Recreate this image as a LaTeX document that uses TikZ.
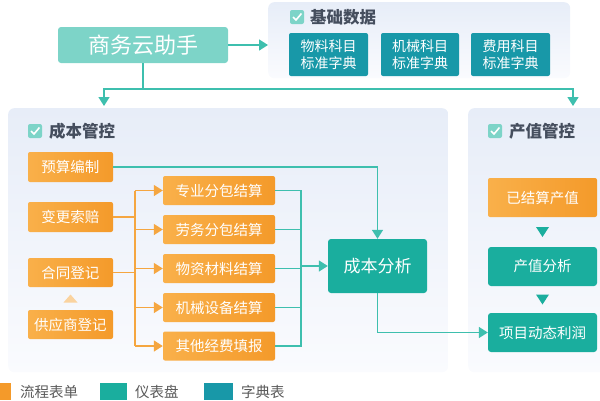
\documentclass[tikz,border=0pt]{standalone}
\usepackage{fontspec}
\setmainfont{Noto Sans CJK SC}
\usetikzlibrary{arrows.meta,calc}
\definecolor{flowA}{HTML}{F9B04A}
\definecolor{flowB}{HTML}{F49A2A}
\definecolor{board}{HTML}{1AAE9E}
\definecolor{dict}{HTML}{1898A8}
\definecolor{helper}{HTML}{7DD4C8}
\definecolor{tline}{HTML}{3EBFAE}
\definecolor{oline}{HTML}{F5A640}
\definecolor{titlegray}{HTML}{454E5E}
\definecolor{paneltop}{HTML}{E7EDF8}
\definecolor{panelbot}{HTML}{FAFBFE}
\def\tickbox(#1){\fill[helper,rounded corners=2pt] ($(#1)+(-7,-7)$) rectangle ($(#1)+(7,7)$);
  \draw[white,line width=1.6pt] ($(#1)+(-4,0)$) -- ($(#1)+(-1,3)$) -- ($(#1)+(4.5,-3.5)$);}
\tikzset{
  flowbox/.style={rounded corners=2pt,left color=flowA,right color=flowB,text=white,inner sep=0pt},
  boardbox/.style={rounded corners=3pt,fill=board,text=white,inner sep=0pt},
  dictbox/.style={rounded corners=2pt,fill=dict,text=white,inner sep=0pt,align=center,
    font=\fontsize{14}{17}\selectfont},
  panelbg/.style={rounded corners=6pt,top color=paneltop,bottom color=panelbot,inner sep=0pt},
  tarrow/.style={tline,line width=1.5pt,-{Triangle[length=9pt,width=11pt]}},
  oarrow/.style={oline,line width=1.5pt,-{Triangle[length=9pt,width=11pt]}},
  title/.style={anchor=west,text=titlegray,font=\fontsize{16.5}{19}\bfseries\selectfont,inner sep=0pt}
}
\begin{document}
\begin{tikzpicture}[x=1pt,y=-1pt,font=\fontsize{14.5}{17}\selectfont]
\useasboundingbox (0,0) rectangle (600,400);
%%%%% panels %%%%%
\node[panelbg,minimum width=302pt,minimum height=76pt,anchor=north west] (basepanel) at (268,2) {};
\node[panelbg,minimum width=440pt,minimum height=264pt,anchor=north west] (costpanel) at (8,108) {};
\node[panelbg,minimum width=150pt,minimum height=264pt,anchor=north west] (valuepanel) at (468,108) {};
\tickbox(297,17)
\node[title] (basetitle) at (310,17) {基础数据};
\tickbox(35,131)
\node[title] (costtitle) at (49,131) {成本管控};
\tickbox(495,131)
\node[title] (valuetitle) at (509,131) {产值管控};

%%%%% top %%%%%
\node[rounded corners=3pt,fill=helper,text=white,minimum width=170pt,minimum height=36pt,
  font=\fontsize{22}{24}\selectfont] (help) at (143,45) {商务云助手};
\node[dictbox,minimum width=79pt,minimum height=43pt] (dict1) at (328.5,54.5) {物料科目\\标准字典};
\node[dictbox,minimum width=78pt,minimum height=43pt] (dict2) at (420,54.5) {机械科目\\标准字典};
\node[dictbox,minimum width=79pt,minimum height=43pt] (dict3) at (510.5,54.5) {费用科目\\标准字典};
\coordinate (split) at ($(help.south)+(0,26)$);
\coordinate (costin) at (104,106);
\coordinate (valuein) at (573,106);
\draw[tarrow] (help.east) -- (help.east -| basepanel.west);
\draw[tarrow] (help.south) -- (split) -| (costin);
\draw[tarrow] (split) -| (valuein);

%%%%% cost control %%%%%
\node[flowbox,minimum width=85pt,minimum height=30pt] (budget) at (70.5,167) {预算编制};
\node[flowbox,minimum width=85pt,minimum height=30pt] (change) at (70.5,217) {变更索赔};
\node[flowbox,minimum width=85pt,minimum height=29pt] (contract) at (70.5,272.5) {合同登记};
\node[flowbox,minimum width=85pt,minimum height=29pt] (supplier) at (70.5,324.5) {供应商登记};
\node[flowbox,minimum width=112pt,minimum height=29pt] (sub1) at (219,190.5) {专业分包结算};
\node[flowbox,minimum width=112pt,minimum height=29pt] (sub2) at (219,229.5) {劳务分包结算};
\node[flowbox,minimum width=112pt,minimum height=29pt] (sub3) at (219,268.5) {物资材料结算};
\node[flowbox,minimum width=112pt,minimum height=29pt] (sub4) at (219,307.5) {机械设备结算};
\node[flowbox,minimum width=112pt,minimum height=29pt] (sub5) at (219,346) {其他经费填报};
\node[boardbox,minimum width=99pt,minimum height=54pt,font=\fontsize{17}{19}\selectfont] (analysis) at (377.5,266) {成本分析};

\fill[oline!50] ($(contract.south)!0.5!(supplier.north)+(-7,4)$) -- ++(14,0) -- ++(-7,-8) -- cycle;

\coordinate (obus) at ($(change.east)+(22,0)$);
\draw[oline,line width=1.5pt] (change.east) -- (obus);
\draw[oline,line width=1.5pt] (contract.east) -- (obus |- contract.east);
\draw[oline,line width=1.5pt] (obus |- sub1.west) -- (obus |- sub5.west);
\foreach \i in {1,...,5}
  \draw[oarrow] (obus |- sub\i.west) -- (sub\i.west);

\coordinate (tbus) at ($(sub1.east)+(26,0)$);
\draw[tline,line width=1.5pt] (sub1.east) -- (tbus) -- (tbus |- sub5.east) -- (sub5.east);
\foreach \i in {2,3,4}
  \draw[tline,line width=1.5pt] (sub\i.east) -- (tbus |- sub\i.east);
\draw[tarrow] (tbus |- analysis.west) -- (analysis.west);
\draw[tarrow] (budget.east) -| (analysis.north);

%%%%% value control %%%%%
\node[flowbox,minimum width=109pt,minimum height=39pt] (settled) at (542.5,197.5) {已结算产值};
\node[boardbox,minimum width=109pt,minimum height=39pt] (valueana) at (542.5,266.5) {产值分析};
\node[boardbox,minimum width=109pt,minimum height=39pt] (profit) at (542.5,332.5) {项目动态利润};
\fill[board] ($(settled.south)!0.5!(valueana.north)+(-6.5,-5)$) -- ++(13,0) -- ++(-6.5,10) -- cycle;
\fill[board] ($(valueana.south)!0.5!(profit.north)+(-6.5,-5)$) -- ++(13,0) -- ++(-6.5,10) -- cycle;
\draw[tarrow] (analysis.south) |- (profit.west);

%%%%% legend %%%%%
\fill[flowB] (-2,383) rectangle (11,400);
\node[anchor=west,text=black!65,inner sep=0pt] (lgflow) at (20,392) {流程表单};
\fill[board] (100,383) rectangle (127,400);
\node[anchor=west,text=black!65,inner sep=0pt] (lgboard) at (135,392) {仪表盘};
\fill[dict] (204,383) rectangle (233,400);
\node[anchor=west,text=black!65,inner sep=0pt] (lgdict) at (241,392) {字典表};
\end{tikzpicture}
\end{document}
